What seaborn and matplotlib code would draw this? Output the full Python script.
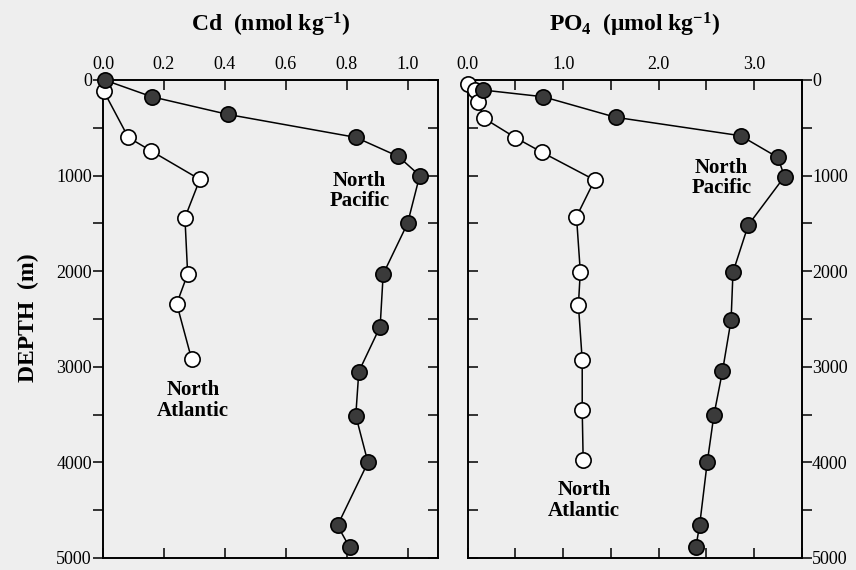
import matplotlib
matplotlib.use('Agg')
import matplotlib.pyplot as plt
import seaborn as sns
import pandas as pd
from matplotlib.ticker import MultipleLocator, FixedLocator

# ---- data ----
cd_pac_depth = [0, 175, 360, 600, 800, 1000, 1500, 2030, 2580, 3050, 3510, 4000, 4660, 4890]
cd_pac = [0.005, 0.16, 0.41, 0.83, 0.97, 1.04, 1.00, 0.92, 0.91, 0.84, 0.83, 0.87, 0.77, 0.81]
cd_atl_depth = [120, 600, 740, 1040, 1440, 2030, 2340, 2920]
cd_atl = [0.003, 0.083, 0.157, 0.318, 0.269, 0.278, 0.242, 0.291]

po4_pac_depth = [105, 175, 390, 583, 810, 1010, 1517, 2010, 2510, 3045, 3505, 4000, 4660, 4890]
po4_pac = [0.16, 0.79, 1.55, 2.86, 3.25, 3.32, 2.94, 2.78, 2.76, 2.67, 2.58, 2.51, 2.43, 2.39]
po4_atl_depth = [40, 105, 227, 400, 603, 757, 1046, 1430, 2005, 2354, 2929, 3452, 3975]
po4_atl = [0.0, 0.08, 0.11, 0.17, 0.50, 0.78, 1.33, 1.14, 1.18, 1.16, 1.20, 1.20, 1.21]

cd_xticks = [0.0, 0.2, 0.4, 0.6, 0.8, 1.0]
cd_xticklabels = ['0.0', '0.2', '0.4', '0.6', '0.8', '1.0']
po4_xticks = [0.0, 1.0, 2.0, 3.0]
po4_xticklabels = ['0.0', '1.0', '2.0', '3.0']
depth_ticks = [0, 1000, 2000, 3000, 4000, 5000]

sns.set_theme(style='white')
plt.rcParams['font.family'] = ['Liberation Serif', 'DejaVu Serif']
plt.rcParams['mathtext.fontset'] = 'custom'
plt.rcParams['mathtext.rm'] = 'Liberation Serif'
plt.rcParams['mathtext.bf'] = 'Liberation Serif:bold'
plt.rcParams['mathtext.it'] = 'Liberation Serif:italic'
for k in ['text.color', 'axes.labelcolor', 'xtick.color', 'ytick.color',
          'xtick.labelcolor', 'ytick.labelcolor', 'axes.edgecolor']:
    plt.rcParams[k] = 'black'

BG = '#eeeeee'
fig = plt.figure(figsize=(8.56, 5.70), dpi=100, facecolor=BG)
axL = fig.add_axes([103/856, 1-558/570, (438-103)/856, (558-80)/570])
axR = fig.add_axes([467.7/856, 1-558/570, (801.7-467.7)/856, (558-80)/570])

ms = 11
def draw(ax, x_atl, d_atl, x_pac, d_pac):
    da = pd.DataFrame({'x': x_atl, 'depth': d_atl})
    dp = pd.DataFrame({'x': x_pac, 'depth': d_pac})
    sns.lineplot(data=da, x='x', y='depth', sort=False, estimator=None, ax=ax,
                 color='black', lw=1.1, marker='o', markersize=ms,
                 markerfacecolor='white', markeredgecolor='black', markeredgewidth=1.2,
                 zorder=3)
    sns.lineplot(data=dp, x='x', y='depth', sort=False, estimator=None, ax=ax,
                 color='black', lw=1.1, marker='o', markersize=ms,
                 markerfacecolor='#3a3a3a', markeredgecolor='black', markeredgewidth=1.2,
                 zorder=4)
    ax.set_facecolor(BG)
    ax.set_ylim(5000, 0)
    ax.set_xlabel('')
    ax.set_ylabel('')
    for s in ax.spines.values():
        s.set_linewidth(1.4)
        s.set_color('black')
    ax.xaxis.tick_top()
    ax.yaxis.set_major_locator(FixedLocator(depth_ticks))
    ax.yaxis.set_minor_locator(MultipleLocator(500))
    ax.tick_params(axis='x', which='both', top=True, bottom=True, direction='in',
                   length=7, width=1.1, labelsize=13, pad=5, labelbottom=False,
                   labeltop=True, colors='black')
    for c in ax.get_children():
        if isinstance(c, matplotlib.lines.Line2D):
            c.set_clip_on(False)

draw(axL, cd_atl, cd_atl_depth, cd_pac, cd_pac_depth)
draw(axR, po4_atl, po4_atl_depth, po4_pac, po4_pac_depth)

axL.set_xlim(0, 1.1)
axL.set_xticks(cd_xticks)
axL.set_xticklabels(cd_xticklabels)
axL.tick_params(axis='y', which='both', left=True, right=True, direction='in',
                length=7, width=1.1, labelsize=13, labelleft=True, labelright=False,
                colors='black', pad=8)
axL.set_yticks(depth_ticks)
axL.set_yticklabels([str(t) for t in depth_ticks])

axR.set_xlim(0, 3.5)
axR.set_xticks(po4_xticks)
axR.set_xticklabels(po4_xticklabels)
axR.xaxis.set_minor_locator(MultipleLocator(0.5))
axR.yaxis.tick_right()
axR.tick_params(axis='y', which='both', left=True, right=True, direction='in',
                length=7, width=1.1, labelsize=13, labelleft=False, labelright=True,
                colors='black', pad=7.5)
axR.set_yticks(depth_ticks)
axR.set_yticklabels([str(t) for t in depth_ticks])

# labelled side ticks point outward
for t in axL.yaxis.get_major_ticks() + axL.yaxis.get_minor_ticks():
    t.tick1line.set_marker(matplotlib.lines.TICKLEFT)
for t in axR.yaxis.get_major_ticks() + axR.yaxis.get_minor_ticks():
    t.tick2line.set_marker(matplotlib.lines.TICKRIGHT)

# titles and labels
fig.text(270.5/856, 1-25/570, r'Cd  (nmol kg$^{\mathbf{-1}}$)', ha='center', va='center',
         fontsize=17, fontweight='bold', color='black')
fig.text(635/856, 1-25/570, r'PO$_{\mathbf{4}}$  ($\mathbf{\mu}$mol kg$^{\mathbf{-1}}$)',
         ha='center', va='center', fontsize=17, fontweight='bold', color='black')
fig.text(28/856, 1-318/570, 'DEPTH  (m)', rotation=90, ha='center', va='center',
         fontsize=17, fontweight='bold', color='black')

lab = dict(ha='center', va='center', fontsize=15, fontweight='bold', linespacing=1.05,
           color='black')
axL.text(0.843, 1160, 'North\nPacific', **lab)
axL.text(0.295, 3350, 'North\nAtlantic', **lab)
axR.text(2.66, 1025, 'North\nPacific', **lab)
axR.text(1.22, 4395, 'North\nAtlantic', **lab)

fig.savefig('out.png', dpi=100, facecolor=BG)
